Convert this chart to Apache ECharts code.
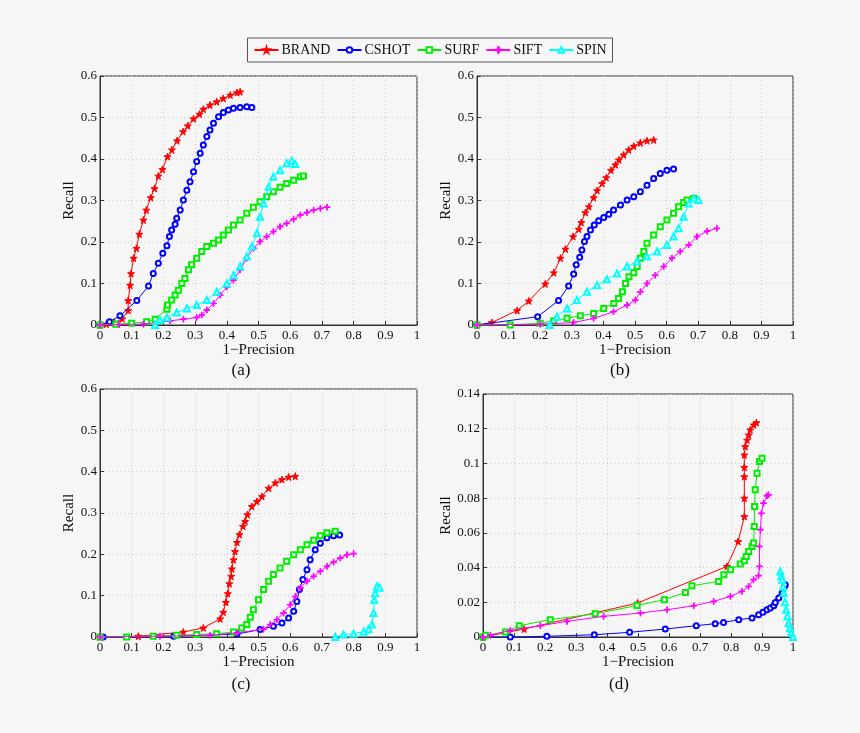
<!DOCTYPE html>
<html>
<head>
<meta charset="utf-8">
<script src="https://cdn.jsdelivr.net/npm/echarts@6/dist/echarts.min.js"></script>
<style>
  html, body { margin: 0; padding: 0; background: #f6f6f6; }
  #chart { width: 860px; height: 733px; }
</style>
</head>
<body>
<div id="chart"></div>
<script>
// 4 subfigures (a)-(d), recall vs 1-precision
var names = ["BRAND", "CSHOT", "SURF", "SIFT", "SPIN"];
var captions = ["(a)", "(b)", "(c)", "(d)"];
var xTicks = [0, 1, 0.1];
var yTicksTop = [0, 0.6, 0.1];
var yTicksD = [0, 0.14, 0.02];

// (a)
var aBrand = [[0,0],[0.02,0.002],[0.045,0.006],[0.07,0.015],[0.089,0.035],[0.089,0.059],[0.095,0.096],[0.098,0.124],[0.106,0.161],[0.115,0.185],[0.124,0.219],[0.137,0.253],[0.146,0.277],[0.16,0.307],[0.172,0.329],[0.184,0.359],[0.197,0.375],[0.213,0.406],[0.227,0.422],[0.243,0.444],[0.262,0.466],[0.277,0.48],[0.295,0.497],[0.314,0.508],[0.326,0.52],[0.347,0.53],[0.368,0.538],[0.389,0.546],[0.411,0.554],[0.432,0.56],[0.442,0.562]];
var aCshot = [[0,0],[0.03,0.008],[0.063,0.022],[0.116,0.059],[0.153,0.094],[0.168,0.124],[0.184,0.149],[0.198,0.173],[0.211,0.191],[0.219,0.213],[0.226,0.229],[0.237,0.243],[0.242,0.257],[0.253,0.277],[0.263,0.301],[0.274,0.325],[0.284,0.345],[0.295,0.369],[0.305,0.394],[0.316,0.414],[0.326,0.434],[0.337,0.454],[0.347,0.47],[0.358,0.486],[0.374,0.502],[0.389,0.512],[0.405,0.518],[0.421,0.522],[0.442,0.524],[0.463,0.526],[0.479,0.524]];
var aSurf = [[0,0],[0.05,0.002],[0.1,0.004],[0.147,0.008],[0.174,0.014],[0.211,0.038],[0.213,0.048],[0.226,0.06],[0.237,0.072],[0.247,0.084],[0.258,0.1],[0.268,0.112],[0.279,0.133],[0.289,0.145],[0.305,0.161],[0.321,0.177],[0.337,0.189],[0.358,0.197],[0.374,0.205],[0.389,0.217],[0.405,0.229],[0.421,0.241],[0.442,0.253],[0.463,0.269],[0.484,0.284],[0.505,0.297],[0.526,0.309],[0.547,0.321],[0.568,0.332],[0.589,0.341],[0.611,0.349],[0.632,0.357],[0.642,0.359]];
var aSift = [[0,0],[0.06,0.001],[0.137,0.002],[0.221,0.01],[0.263,0.014],[0.305,0.018],[0.321,0.024],[0.337,0.036],[0.358,0.052],[0.379,0.072],[0.4,0.092],[0.421,0.108],[0.442,0.133],[0.463,0.161],[0.484,0.185],[0.505,0.201],[0.526,0.213],[0.547,0.225],[0.568,0.237],[0.589,0.245],[0.611,0.255],[0.632,0.265],[0.653,0.271],[0.674,0.277],[0.695,0.281],[0.716,0.284]];
var aSpin = [[0.174,0],[0.189,0.012],[0.211,0.018],[0.242,0.03],[0.274,0.04],[0.305,0.048],[0.337,0.06],[0.368,0.08],[0.4,0.1],[0.421,0.12],[0.442,0.141],[0.463,0.165],[0.479,0.189],[0.495,0.221],[0.505,0.261],[0.516,0.293],[0.532,0.333],[0.547,0.357],[0.568,0.373],[0.589,0.39],[0.605,0.396],[0.616,0.388]];

// (b)
var bBrand = [[0,0],[0.047,0.006],[0.127,0.035],[0.164,0.058],[0.216,0.099],[0.243,0.126],[0.264,0.161],[0.28,0.183],[0.304,0.213],[0.322,0.231],[0.33,0.247],[0.343,0.271],[0.354,0.285],[0.369,0.307],[0.38,0.324],[0.396,0.341],[0.409,0.355],[0.424,0.373],[0.438,0.386],[0.449,0.398],[0.464,0.41],[0.48,0.422],[0.496,0.431],[0.517,0.439],[0.538,0.444],[0.559,0.446]];
var bCshot = [[0,0],[0.192,0.02],[0.258,0.059],[0.29,0.094],[0.306,0.123],[0.314,0.145],[0.325,0.163],[0.332,0.181],[0.34,0.201],[0.348,0.213],[0.359,0.229],[0.371,0.241],[0.385,0.251],[0.401,0.259],[0.417,0.267],[0.432,0.277],[0.454,0.289],[0.475,0.301],[0.496,0.309],[0.517,0.321],[0.538,0.337],[0.559,0.353],[0.58,0.365],[0.601,0.373],[0.622,0.376]];
var bSurf = [[0,0],[0.105,0],[0.2,0.004],[0.243,0.01],[0.285,0.016],[0.327,0.022],[0.369,0.028],[0.401,0.04],[0.433,0.052],[0.448,0.064],[0.46,0.08],[0.47,0.1],[0.481,0.116],[0.496,0.126],[0.507,0.141],[0.517,0.161],[0.528,0.177],[0.538,0.197],[0.559,0.217],[0.58,0.237],[0.601,0.253],[0.622,0.269],[0.638,0.285],[0.654,0.295],[0.665,0.301],[0.686,0.305]];
var bSift = [[0,0],[0.2,0.002],[0.306,0.006],[0.369,0.016],[0.432,0.032],[0.475,0.048],[0.501,0.06],[0.517,0.08],[0.538,0.1],[0.564,0.12],[0.591,0.141],[0.617,0.161],[0.643,0.177],[0.67,0.193],[0.696,0.213],[0.728,0.226],[0.759,0.233]];
var bSpin = [[0.23,0],[0.253,0.02],[0.285,0.04],[0.316,0.06],[0.348,0.08],[0.38,0.096],[0.411,0.11],[0.443,0.124],[0.475,0.141],[0.506,0.153],[0.538,0.165],[0.57,0.177],[0.601,0.193],[0.622,0.213],[0.638,0.233],[0.654,0.261],[0.67,0.293],[0.686,0.305],[0.701,0.301]];

// (c)
var cBrand = [[0,0],[0.121,0.002],[0.263,0.012],[0.326,0.022],[0.379,0.044],[0.389,0.06],[0.397,0.084],[0.403,0.105],[0.408,0.129],[0.414,0.147],[0.416,0.165],[0.421,0.187],[0.426,0.207],[0.432,0.229],[0.44,0.248],[0.451,0.268],[0.458,0.28],[0.465,0.296],[0.479,0.316],[0.495,0.328],[0.511,0.34],[0.532,0.36],[0.553,0.373],[0.574,0.381],[0.595,0.387],[0.616,0.389]];
var cCshot = [[0.01,0],[0.232,0.002],[0.432,0.007],[0.505,0.018],[0.547,0.026],[0.574,0.034],[0.595,0.046],[0.611,0.062],[0.621,0.086],[0.629,0.115],[0.64,0.139],[0.653,0.163],[0.663,0.187],[0.679,0.211],[0.695,0.227],[0.716,0.24],[0.737,0.245],[0.756,0.247]];
var cSurf = [[0,0],[0.084,0],[0.168,0.002],[0.242,0.004],[0.305,0.006],[0.368,0.008],[0.421,0.012],[0.447,0.022],[0.463,0.03],[0.474,0.048],[0.484,0.066],[0.5,0.09],[0.516,0.115],[0.532,0.135],[0.547,0.151],[0.568,0.167],[0.589,0.183],[0.611,0.199],[0.632,0.211],[0.653,0.223],[0.674,0.234],[0.695,0.245],[0.716,0.252],[0.742,0.256]];
var cSift = [[0,0],[0.189,0.002],[0.347,0.004],[0.432,0.01],[0.516,0.019],[0.537,0.03],[0.558,0.042],[0.579,0.058],[0.6,0.078],[0.616,0.098],[0.632,0.119],[0.653,0.135],[0.674,0.147],[0.695,0.159],[0.716,0.171],[0.737,0.181],[0.758,0.191],[0.779,0.199],[0.8,0.202]];
var cSpin = [[0.742,0],[0.768,0.006],[0.8,0.008],[0.832,0.013],[0.847,0.019],[0.858,0.03],[0.863,0.058],[0.865,0.09],[0.868,0.106],[0.874,0.123],[0.882,0.119]];

// (d)
var dBrand = [[0,0],[0.133,0.0046],[0.499,0.0196],[0.787,0.0407],[0.823,0.055],[0.843,0.0694],[0.843,0.08],[0.843,0.0924],[0.843,0.0978],[0.843,0.1049],[0.846,0.1097],[0.852,0.1135],[0.857,0.1164],[0.862,0.1193],[0.873,0.1222],[0.882,0.1235]];
var dCshot = [[0,0],[0.088,0],[0.206,0.0004],[0.359,0.0013],[0.473,0.0027],[0.588,0.0046],[0.688,0.0065],[0.749,0.0077],[0.776,0.0084],[0.825,0.01],[0.868,0.0109],[0.889,0.0128],[0.903,0.0142],[0.916,0.0157],[0.927,0.0167],[0.938,0.018],[0.943,0.0199],[0.954,0.0224],[0.965,0.0253],[0.973,0.0292],[0.975,0.0301]];
var dSurf = [[0,0],[0.008,0.001],[0.072,0.0029],[0.117,0.0065],[0.217,0.01],[0.362,0.0134],[0.497,0.0182],[0.585,0.0215],[0.653,0.0257],[0.674,0.0295],[0.76,0.032],[0.777,0.0359],[0.798,0.0387],[0.83,0.042],[0.843,0.0439],[0.849,0.0464],[0.857,0.0493],[0.868,0.0522],[0.873,0.0541],[0.875,0.0637],[0.876,0.0752],[0.878,0.0848],[0.884,0.0944],[0.892,0.1011],[0.9,0.103]];
var dSift = [[0,0],[0.024,0.001],[0.088,0.0038],[0.185,0.0065],[0.271,0.009],[0.389,0.0119],[0.508,0.0138],[0.594,0.0157],[0.68,0.018],[0.744,0.0205],[0.798,0.0234],[0.835,0.0263],[0.857,0.0292],[0.873,0.033],[0.889,0.0353],[0.892,0.0407],[0.892,0.0522],[0.895,0.0618],[0.898,0.0713],[0.905,0.0771],[0.916,0.0813],[0.921,0.0819]];
var dSpin = [[0.959,0.0378],[0.962,0.035],[0.965,0.033],[0.968,0.029],[0.97,0.0253],[0.974,0.02],[0.978,0.0157],[0.982,0.012],[0.986,0.0081],[0.99,0.005],[0.994,0.0023],[1,0]];

var panels = [
  [aBrand, aCshot, aSurf, aSift, aSpin],
  [bBrand, bCshot, bSurf, bSift, bSpin],
  [cBrand, cCshot, cSurf, cSift, cSpin],
  [dBrand, dCshot, dSurf, dSift, dSpin]
];

var colors = ["#ff0000", "#0000ff", "#00ee00", "#ff00ff", "#00ffff"];
var starPath = "path://M50,0 L61,35 L98,35 L68,57 L79,91 L50,70 L21,91 L32,57 L2,35 L39,35 Z";
var plusPath = "path://M4.4,0 L5.6,0 L5.6,4.4 L10,4.4 L10,5.6 L5.6,5.6 L5.6,10 L4.4,10 L4.4,5.6 L0,5.6 L0,4.4 L4.4,4.4 Z";
var symbols = [starPath, "emptyCircle", "emptyRect", plusPath, "emptyTriangle"];
var symbolSizes = [7, 5, 5, 6, 6];

var font = "Liberation Serif";
var grids = [
  { left: 100, top: 76, width: 317, height: 249 },
  { left: 477, top: 76, width: 316, height: 249 },
  { left: 100, top: 389, width: 317, height: 248 },
  { left: 483, top: 394, width: 310, height: 243 }
];
var capPos = [[241, 371], [620, 371], [241, 685], [619, 685]];

var chart = echarts.init(document.getElementById("chart"));

var xAxis = [], yAxis = [], series = [], graphic = [];
grids.forEach(function (g, i) {
  g.show = true;
  g.borderColor = "#333";
  g.borderWidth = 1;
  g.backgroundColor = "transparent";
  g.containLabel = false;
  var yt = i === 3 ? yTicksD : yTicksTop;
  xAxis.push({
    type: "value", gridIndex: i, min: xTicks[0], max: xTicks[1], interval: xTicks[2],
    name: "1\u2212Precision", nameLocation: "middle", nameGap: 16,
    nameTextStyle: { fontFamily: font, fontSize: 15, color: "#111" },
    axisLine: { show: true, lineStyle: { color: "#333" } },
    axisTick: { show: true, inside: true, length: 4, lineStyle: { color: "#333" } },
    axisLabel: { fontFamily: font, fontSize: 13, color: "#111", margin: 4 },
    splitLine: { show: true, lineStyle: { color: "#c8c8c8", type: [1, 3] } }
  });
  yAxis.push({
    type: "value", gridIndex: i, min: yt[0], max: yt[1], interval: yt[2],
    name: "Recall", nameLocation: "middle", nameGap: i === 3 ? 29 : 21,
    nameTextStyle: { fontFamily: font, fontSize: 15, color: "#111" },
    axisLine: { show: true, lineStyle: { color: "#333" } },
    axisTick: { show: true, inside: true, length: 4, lineStyle: { color: "#333" } },
    axisLabel: { fontFamily: font, fontSize: 13, color: "#111", margin: 3 },
    splitLine: { show: true, lineStyle: { color: "#c8c8c8", type: [1, 3] } }
  });
  panels[i].forEach(function (data, k) {
    series.push({
      name: names[k], type: "line", xAxisIndex: i, yAxisIndex: i,
      data: data, symbol: symbols[k], symbolSize: symbolSizes[k],
      showSymbol: true, showAllSymbol: true,
      lineStyle: { color: colors[k], width: 1 },
      itemStyle: { color: colors[k], borderColor: colors[k], borderWidth: 1 },
      z: 2 + k, clip: true
    });
  });
  graphic.push({
    type: "text", x: capPos[i][0], y: capPos[i][1],
    style: { text: captions[i], font: "17px '" + font + "'", fill: "#111", textAlign: "center", textVerticalAlign: "middle" }
  });
});

var option = {
  backgroundColor: "#f6f6f6",
  animation: false,
  legend: {
    data: names, top: 38, left: "center",
    orient: "horizontal",
    borderColor: "#555", borderWidth: 1, padding: [5, 6, 5, 6],
    backgroundColor: "#f6f6f6",
    itemWidth: 24, itemHeight: 7, itemGap: 6,
    textStyle: { fontFamily: font, fontSize: 14, color: "#111", padding: [0, 0, 0, -2] }
  },
  grid: grids,
  xAxis: xAxis,
  yAxis: yAxis,
  series: series,
  graphic: graphic
};
chart.setOption(option);
</script>
</body>
</html>
